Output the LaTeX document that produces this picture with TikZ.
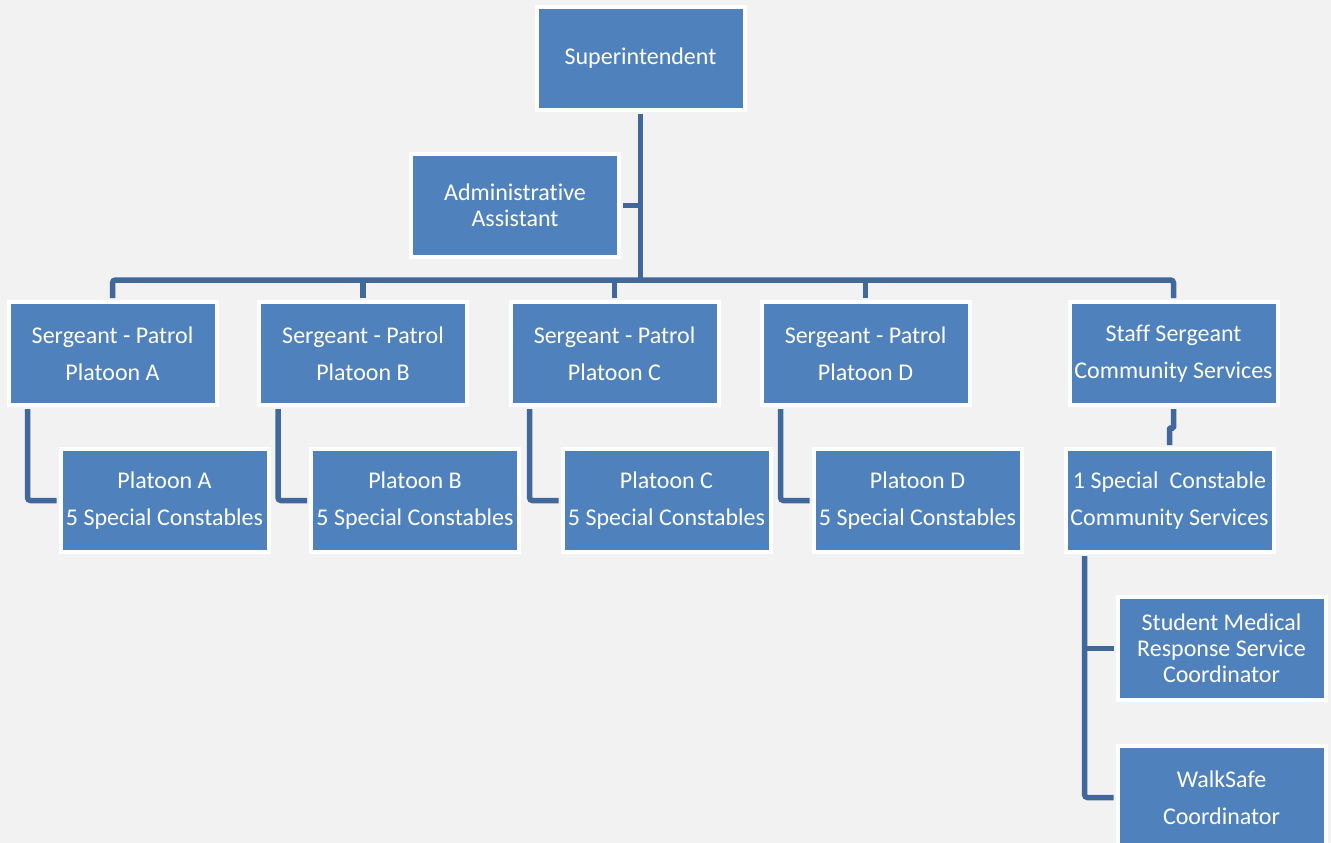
\documentclass[tikz,border=0pt]{standalone}
\usepackage{fontspec}
\setmainfont{Carlito}[Ligatures=NoCommon]
\definecolor{boxblue}{RGB}{79,129,189}
\definecolor{linkblue}{RGB}{64,104,154}
\definecolor{pagegray}{RGB}{242,242,242}

\begin{document}
\begin{tikzpicture}[x=1pt,y=-1pt,
  orgbox/.style={draw=white,line width=4pt,fill=boxblue,text=white,minimum width=208pt,minimum height=103pt,inner sep=2pt,align=center,font=\fontsize{24}{37}\selectfont},
  tightbox/.style={orgbox,font=\fontsize{24}{26}\selectfont},
  link/.style={draw=linkblue,line width=5.5pt,rounded corners=3pt,shorten <=2pt,shorten >=2pt}]
  \useasboundingbox[fill=pagegray] (0,0) rectangle (1331,843);
  \node[orgbox] at (640.5,58.5) (sup) {Superintendent};
  \node[tightbox] at (515,205.5) (adm) {Administrative\\Assistant};
  \coordinate (bus) at (640.5,280);
  \foreach \p/\x in {A/112.5,B/363,C/614.5,D/865.5} {
    \node[orgbox] at (\x,353.5) (sg\p) {Sergeant - Patrol\\Platoon \p};
    \node[orgbox] at (\x+52,500.5) (pl\p) {Platoon \p\\5 Special Constables};
    \draw[link] ([xshift=21pt]sg\p.south west) |- (pl\p.west);
  }
  \node[orgbox] at (1173.5,353.5) (css) {Staff Sergeant\\Community Services};
  \node[orgbox] at (1169.5,500.5) (sc) {1 Special\ \ Constable\\Community Services};
  \node[tightbox] at (1221.5,648.5) (smr) {Student Medical\\Response Service\\Coordinator};
  \node[orgbox] at (1221.5,797.5) (ws) {WalkSafe\\Coordinator};
  % links
  \draw[link] (sup.south) -- (sup.south |- bus);
  \draw[link] (adm.east) -- (adm.east -| sup.south);
  \draw[link] (sgA.north) |- (bus) -| (css.north);
  \foreach \p in {B,C,D}
    \draw[link] (sg\p.north) -- (sg\p.north |- bus);
  \draw[link,rounded corners=1pt] (css.south) -- ++(0,21) -| (sc.north);
  \draw[link,rounded corners=0pt] ([xshift=21pt]sc.south west) |- (smr.west);
  \draw[link] ([xshift=21pt]sc.south west) |- (ws.west);
\end{tikzpicture}
\end{document}
